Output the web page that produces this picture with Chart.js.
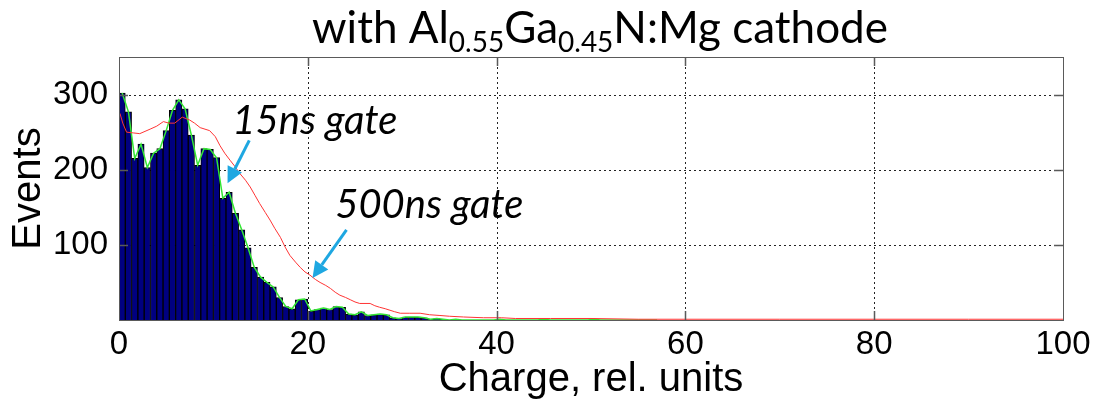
<!DOCTYPE html>
<html lang="en">
<head>
    <meta charset="UTF-8">
    <title>Charge spectrum, AlGaN:Mg cathode</title>
    <script src="https://cdn.jsdelivr.net/npm/chart.js"></script>
    <style>
        html, body { margin: 0; padding: 0; background: #fff; }
        #myChart { display: block; }
    </style>
</head>
<body>
    <canvas id="myChart" width="1101" height="404"></canvas>

    <script>
        // histogram bin width (charge units)
        const binWidth = 2 / 3;

        // 15ns gate histogram, counts per bin starting at charge 0
        const gate15Counts = [
            302, 277, 215, 234, 203, 222, 228, 252, 279, 293,
            281, 246, 206, 228, 227, 216, 162, 170, 142, 120,
            96, 70, 57, 50, 44, 30, 18, 15, 27, 28,
            12, 14, 16, 14, 18, 17, 8, 7, 11, 6,
            7, 8, 7, 3, 2, 4, 4, 4, 3, 1,
            2, 1, 0, 1, 0, 0, 0, 0, 0, 0,
            1, 0, 0, 0, 0, 0, 0, 1, 0, 0,
            0, 0, 0, 0, 0, 1, 0, 0, 0, 0,
            0, 0, 0, 0, 0, 0
        ];

        // 500ns gate spectrum (red trace)
        const gate500Charge = [
            0.1, 0.4, 0.8, 1.5, 2.2, 3.3, 4.0, 4.7, 5.3, 5.9,
            6.7, 7.5, 8.0, 8.6, 9.6, 10.2, 10.7, 11.2, 11.8, 12.3,
            12.8, 13.4, 13.9, 14.4, 14.9, 15.5, 16.0, 16.5, 17.1, 17.6,
            18.1, 18.7, 19.2, 19.7, 20.2, 20.8, 21.3, 21.9, 22.4, 22.9,
            23.4, 24.0, 24.5, 25.0, 25.5, 26.6, 27.1, 27.6, 28.2, 28.7,
            29.2, 29.8, 30.8, 31.9, 32.9, 34.0, 35.0, 36.5, 38.6, 40.5,
            42.0, 45.7, 50.0, 55.0, 60.0, 70.0, 80.0, 90.0, 100.0
        ];
        const gate500Events = [
            275, 262, 250, 249, 248, 254, 258, 264, 262, 262,
            270, 266, 262, 256, 252, 244, 232, 222, 212, 204,
            195, 186, 177, 166, 155, 143, 133, 122, 110, 97,
            86, 77, 70, 64, 60, 54, 50, 46, 42, 37,
            33, 30, 27, 24, 22, 22, 19, 17, 15, 13,
            11, 9, 9, 9, 7, 6, 5, 4, 3, 3,
            2, 2, 2, 1, 1, 1, 1, 1, 1
        ];

        const xTicks = [0, 20, 40, 60, 80, 100];
        const yTicks = [100, 200, 300];

        // arrow annotations, in data units
        const noteLabels = ['15ns gate', '500ns gate'];
        const noteText = [[12.0, 247], [22.9, 136]];
        const noteArrows = [[13.8, 239, 11.5, 182], [24.1, 120, 20.5, 56]];

        const binCentres = gate15Counts.map((c, i) => (i + 0.5) * binWidth);
        const barPoints = [];
        gate15Counts.forEach((c, i) => { if (c > 0 && i < 55) barPoints.push({ x: binCentres[i], y: c }); });
        const greenPoints = gate15Counts.map((c, i) => ({ x: binCentres[i], y: c }));
        const redPoints = gate500Charge.map((x, i) => ({ x: x, y: gate500Events[i] }));

        const frameColor = '#5a5a5a';

        const decorations = {
            id: 'decorations',
            beforeDatasetsDraw: (chart) => {
                const ctx = chart.ctx;
                const a = chart.chartArea;
                const xs = chart.scales.x, ys = chart.scales.y;
                ctx.save();
                ctx.strokeStyle = '#222';
                ctx.lineWidth = 1;
                ctx.setLineDash([2, 3]);
                xTicks.slice(1, -1).forEach(v => {
                    const px = Math.round(xs.getPixelForValue(v)) + 0.5;
                    ctx.beginPath(); ctx.moveTo(px, a.top); ctx.lineTo(px, a.bottom); ctx.stroke();
                });
                yTicks.forEach(v => {
                    const py = Math.round(ys.getPixelForValue(v)) + 0.5;
                    ctx.beginPath(); ctx.moveTo(a.left, py); ctx.lineTo(a.right, py); ctx.stroke();
                });
                ctx.restore();
            },
            afterDatasetsDraw: (chart) => {
                const ctx = chart.ctx;
                const a = chart.chartArea;
                const xs = chart.scales.x, ys = chart.scales.y;
                ctx.save();
                // box and inward ticks
                ctx.strokeStyle = frameColor;
                ctx.lineWidth = 1;
                ctx.strokeRect(Math.round(a.left) + 0.5, Math.round(a.top) + 0.5,
                    Math.round(a.right - a.left), Math.round(a.bottom - a.top));
                const tl = 9;
                ctx.lineWidth = 1.5;
                xTicks.slice(1, -1).forEach(v => {
                    const px = Math.round(xs.getPixelForValue(v)) + 0.5;
                    ctx.beginPath();
                    ctx.moveTo(px, a.bottom); ctx.lineTo(px, a.bottom - tl);
                    ctx.moveTo(px, a.top); ctx.lineTo(px, a.top + tl);
                    ctx.stroke();
                });
                yTicks.forEach(v => {
                    const py = Math.round(ys.getPixelForValue(v)) + 0.5;
                    ctx.beginPath();
                    ctx.moveTo(a.left, py); ctx.lineTo(a.left + tl, py);
                    ctx.moveTo(a.right, py); ctx.lineTo(a.right - tl, py);
                    ctx.stroke();
                });

                // arrows
                ctx.strokeStyle = '#1ea7e1';
                ctx.fillStyle = '#1ea7e1';
                noteArrows.forEach(arr => {
                    const x1 = xs.getPixelForValue(arr[0]), y1 = ys.getPixelForValue(arr[1]);
                    const x2 = xs.getPixelForValue(arr[2]), y2 = ys.getPixelForValue(arr[3]);
                    const ang = Math.atan2(y2 - y1, x2 - x1);
                    const hl = 16, hw = 8;
                    const bx = x2 - hl * Math.cos(ang), by = y2 - hl * Math.sin(ang);
                    ctx.lineWidth = 3;
                    ctx.beginPath(); ctx.moveTo(x1, y1); ctx.lineTo(bx, by); ctx.stroke();
                    ctx.beginPath();
                    ctx.moveTo(x2, y2);
                    ctx.lineTo(bx + hw * Math.sin(ang), by - hw * Math.cos(ang));
                    ctx.lineTo(bx - hw * Math.sin(ang), by + hw * Math.cos(ang));
                    ctx.closePath(); ctx.fill();
                });

                // labels
                ctx.fillStyle = '#000';
                ctx.font = 'italic 40px Lato, "Open Sans", sans-serif';
                ctx.textAlign = 'left';
                ctx.textBaseline = 'alphabetic';
                noteLabels.forEach((t, i) => {
                    ctx.fillText(t, xs.getPixelForValue(noteText[i][0]), ys.getPixelForValue(noteText[i][1]));
                });
                ctx.restore();
            },
            afterDraw: (chart) => {
                // title with subscripts
                const ctx = chart.ctx;
                const parts = [
                    ['with Al', false], ['0.55', true], ['Ga', false], ['0.45', true], ['N:Mg cathode', false]
                ];
                const size = 44, subSize = 28;
                const fam = 'Lato, "Open Sans", sans-serif';
                ctx.save();
                let total = 0;
                parts.forEach(p => {
                    ctx.font = (p[1] ? subSize : size) + 'px ' + fam;
                    total += ctx.measureText(p[0]).width;
                });
                let x = 600 - total / 2;
                const base = 43;
                ctx.fillStyle = '#000';
                ctx.textBaseline = 'alphabetic';
                ctx.textAlign = 'left';
                parts.forEach(p => {
                    ctx.font = (p[1] ? subSize : size) + 'px ' + fam;
                    ctx.fillText(p[0], x, p[1] ? base + 9 : base);
                    x += ctx.measureText(p[0]).width;
                });
                ctx.restore();
            }
        };

        const tickFont = { family: '"Liberation Sans", Arial, sans-serif', size: 33 };
        const titleFont = { family: '"Liberation Sans", Arial, sans-serif', size: 40 };

        const ctx = document.getElementById('myChart').getContext('2d');
        new Chart(ctx, {
            type: 'bar',
            data: {
                datasets: [
                    {
                        type: 'line',
                        label: '500ns gate',
                        data: redPoints,
                        borderColor: '#ff3434',
                        borderWidth: 1,
                        pointRadius: 0,
                        tension: 0,
                        order: 1
                    },
                    {
                        type: 'line',
                        label: '15ns gate outline',
                        data: greenPoints,
                        borderColor: '#33e633',
                        borderWidth: 1.5,
                        pointRadius: 0,
                        tension: 0,
                        order: 2
                    },
                    {
                        type: 'bar',
                        label: '15ns gate',
                        data: barPoints,
                        backgroundColor: '#000080',
                        borderColor: '#000000',
                        borderWidth: 1,
                        barPercentage: 1,
                        categoryPercentage: 1,
                        order: 3
                    }
                ]
            },
            options: {
                responsive: false,
                animation: false,
                layout: { padding: { top: 57, right: 38, left: 0, bottom: 0 } },
                plugins: {
                    legend: { display: false },
                    tooltip: { enabled: false },
                    title: { display: false }
                },
                scales: {
                    x: {
                        type: 'linear',
                        min: 0,
                        max: 100,
                        offset: false,
                        grid: { display: false, drawTicks: false },
                        border: { display: false },
                        afterBuildTicks: (s) => { s.ticks = xTicks.map(v => ({ value: v })); },
                        afterFit: (s) => { s.height = 84; },
                        ticks: { font: tickFont, color: '#000', padding: 5, maxRotation: 0 },
                        title: { display: true, text: 'Charge, rel. units', font: titleFont, color: '#000', padding: { top: 0, bottom: 0 } }
                    },
                    y: {
                        min: 0,
                        max: 350,
                        grid: { display: false, drawTicks: false },
                        border: { display: false },
                        afterBuildTicks: (s) => { s.ticks = yTicks.map(v => ({ value: v })); },
                        afterFit: (s) => { s.width = 119; },
                        ticks: { font: tickFont, color: '#000', padding: 11 },
                        title: { display: true, text: 'Events', font: titleFont, color: '#000', padding: { top: 5, bottom: 0 } }
                    }
                }
            },
            plugins: [decorations]
        });
    </script>
</body>
</html>
